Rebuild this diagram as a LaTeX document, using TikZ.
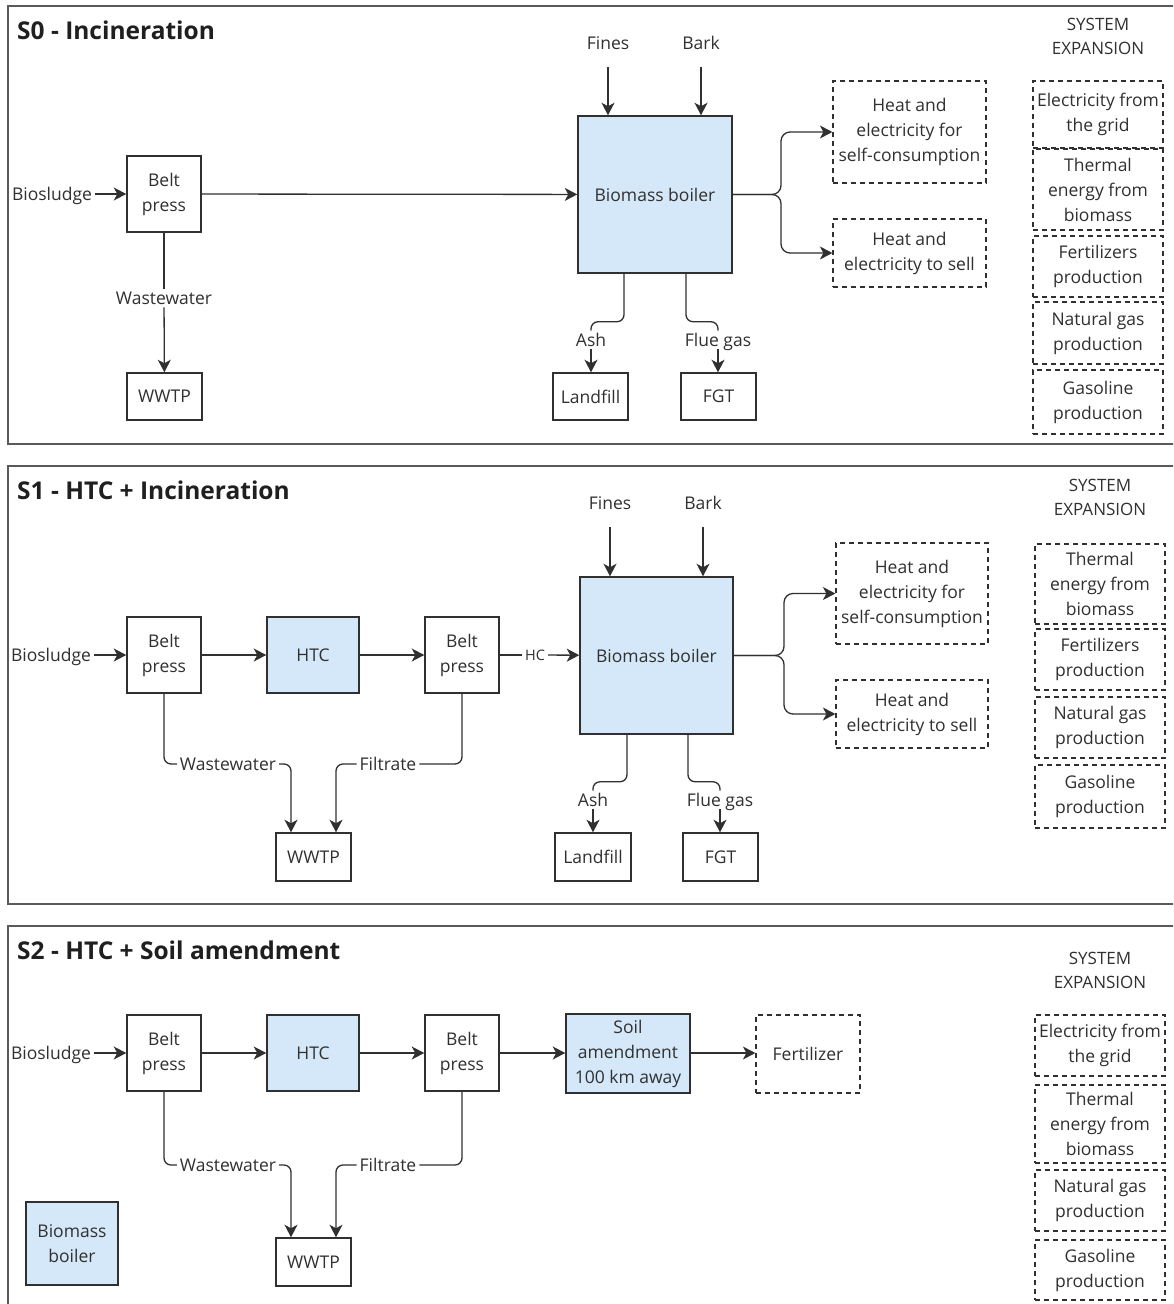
\documentclass[tikz,border=0pt]{standalone}
\usepackage{fontspec}
\setmainfont{Open Sans}
\usepackage{tikz}
\usetikzlibrary{arrows.meta}

\definecolor{ink}{RGB}{48,48,48}
\definecolor{panelgrey}{RGB}{90,90,90}
\definecolor{boxblue}{RGB}{213,232,249}

\newcommand{\boxfont}{\fontsize{17.5}{25}\selectfont}
\newcommand{\headfont}{\fontsize{24.5}{28}\selectfont\bfseries}

\tikzset{
  panel/.style={draw=panelgrey, line width=1.6pt},
  headline/.style={anchor=base west, inner sep=0pt, font=\headfont, text=black!88},
  unit/.style={draw=ink, line width=1.5pt, fill=white, align=center, inner sep=0pt, text=ink, font=\boxfont},
  bunit/.style={unit, fill=boxblue},
  ext/.style={unit, line width=1.2pt, dash pattern=on 5pt off 4pt},
  lbl/.style={inner sep=3pt, text height=12.5pt, text depth=0pt, text=ink, font=\boxfont},
  smalllbl/.style={lbl, text height=10.5pt, font=\fontsize{14.5}{18}\selectfont},
  sxlbl/.style={align=center, inner sep=0pt, text=ink, font=\fontsize{17}{24}\selectfont},
  pipe/.style={draw=ink, line width=1.3pt},
  flow/.style={pipe, -{Stealth[length=12.5pt,width=13pt,inset=3.5pt]}},
}

\begin{document}
\begin{tikzpicture}[x=1pt,y=-1pt]
\clip (0,0) rectangle (1173,1304);
\fill[white] (0,0) rectangle (1173,1304);

% ---------- S0 - Incineration
\draw[panel] (8,6) rectangle (1190,444);
\node[headline] (h0) at (17,39) {S0 - Incineration};

% sludge line
\node[lbl] (bio0) at (52,194) {Biosludge};
\node[unit,minimum width=74pt,minimum height=76pt] (bp0) at (164,194) {Belt\\press};
\node[lbl] (ww0) at (164,298) {Wastewater};
\node[unit,minimum width=75pt,minimum height=47pt] (wwtp0) at (164.5,396.5) {WWTP};
\draw[flow] (bio0) -- (bp0);
\draw[pipe] (bp0) -- (ww0);
\draw[flow] (ww0) -- (wwtp0);

% boiler
\node[bunit,minimum width=154pt,minimum height=157pt] (boil0) at (655,194.5) {Biomass boiler};
\node[lbl] (fin0) at (608,43) {Fines};
\node[lbl] (bark0) at (701,43) {Bark};
\draw[flow] (bp0) -- (boil0);
\draw[flow] ([yshift=-15pt]fin0.south) -- (fin0 |- boil0.north);
\draw[flow] ([yshift=-15pt]bark0.south) -- (bark0 |- boil0.north);

% heat and electricity
\coordinate (sp0) at (781,194.5);
\node[ext,minimum width=153pt,minimum height=102pt] (self0) at (909.5,132) {Heat and\\electricity for\\self-consumption};
\node[ext,minimum width=153pt,minimum height=68pt] (sell0) at (909.5,253) {Heat and\\electricity to sell};
\draw[flow,rounded corners=9pt] (boil0.east) -- (sp0) |- (self0.west);
\draw[flow,rounded corners=9pt] (boil0.east) -- (sp0) |- (sell0.west);

% residues
\node[lbl] (ash0) at (591,340) {Ash};
\node[unit,minimum width=75pt,minimum height=47pt] (land0) at (590.5,396.5) {Landfill};
\node[lbl] (flue0) at (718,340) {Flue gas};
\node[unit,minimum width=75pt,minimum height=47pt] (fgt0) at (718.5,396.5) {FGT};
\draw[pipe,rounded corners=7pt] ([xshift=-31pt]boil0.south) -- ++(0,48) -| (ash0.north);
\draw[flow] (ash0.south) -- (ash0.south |- land0.north);
\draw[pipe,rounded corners=7pt] ([xshift=31pt]boil0.south) -- ++(0,48) -| (flue0.north);
\draw[flow] (flue0.south) -- (flue0.south |- fgt0.north);

% system expansion
\node[sxlbl] (sx0) at (1098,36) {SYSTEM\\EXPANSION};
\node[ext,minimum width=130pt,minimum height=67pt] (grid0) at (1098,114.5) {Electricity from\\the grid};
\node[ext,minimum width=130pt,minimum height=81pt] (therm0) at (1098,189.5) {Thermal\\energy from\\biomass};
\node[ext,minimum width=130pt,minimum height=61pt] (fert0) at (1098,266.5) {Fertilizers\\production};
\node[ext,minimum width=130pt,minimum height=62pt] (ng0) at (1098,333) {Natural gas\\production};
\node[ext,minimum width=130pt,minimum height=64pt] (gas0) at (1098,402) {Gasoline\\production};

% ---------- S1 - HTC + Incineration
\draw[panel] (8,466) rectangle (1190,904);
\node[headline] (h1) at (17,499.5) {S1 - HTC + Incineration};

% sludge line
\node[lbl] (bio1) at (51,655) {Biosludge};
\node[unit,minimum width=74pt,minimum height=76pt] (bp1a) at (164,655) {Belt\\press};
\node[bunit,minimum width=92pt,minimum height=76pt] (htc1) at (313,655) {HTC};
\node[unit,minimum width=74pt,minimum height=76pt] (bp1b) at (462,655) {Belt\\press};
\node[smalllbl] (hc1) at (535,655) {HC};
\draw[flow] (bio1) -- (bp1a);
\draw[flow] (bp1a) -- (htc1);
\draw[flow] (htc1) -- (bp1b);

% water to WWTP
\node[lbl] (ww1) at (228,764) {Wastewater};
\node[lbl] (ft1) at (388,764) {Filtrate};
\node[unit,minimum width=75pt,minimum height=48pt] (wwtp1) at (313.5,857) {WWTP};
\draw[pipe,rounded corners=7pt] (bp1a.south) |- (ww1.west);
\draw[flow,rounded corners=7pt] (ww1.east) -| ([xshift=-22.5pt]wwtp1.north);
\draw[pipe,rounded corners=7pt] (bp1b.south) |- (ft1.east);
\draw[flow,rounded corners=7pt] (ft1.west) -| ([xshift=22.5pt]wwtp1.north);

% boiler
\node[bunit,minimum width=153pt,minimum height=157pt] (boil1) at (656.5,655.5) {Biomass boiler};
\node[lbl] (fin1) at (610,503) {Fines};
\node[lbl] (bark1) at (703,503) {Bark};
\draw[pipe] (bp1b) -- (hc1);
\draw[flow] (hc1) -- (boil1);
\draw[flow] ([yshift=-15pt]fin1.south) -- (fin1 |- boil1.north);
\draw[flow] ([yshift=-15pt]bark1.south) -- (bark1 |- boil1.north);

% heat and electricity
\coordinate (sp1) at (784,655.5);
\node[ext,minimum width=152pt,minimum height=101pt] (self1) at (912,593.5) {Heat and\\electricity for\\self-consumption};
\node[ext,minimum width=152pt,minimum height=68pt] (sell1) at (912,714) {Heat and\\electricity to sell};
\draw[flow,rounded corners=9pt] (boil1.east) -- (sp1) |- (self1.west);
\draw[flow,rounded corners=9pt] (boil1.east) -- (sp1) |- (sell1.west);

% residues
\node[lbl] (ash1) at (593,800) {Ash};
\node[unit,minimum width=76pt,minimum height=48pt] (land1) at (593,857) {Landfill};
\node[lbl] (flue1) at (720,800) {Flue gas};
\node[unit,minimum width=75pt,minimum height=48pt] (fgt1) at (720.5,857) {FGT};
\draw[pipe,rounded corners=7pt] ([xshift=-29.5pt]boil1.south) -- ++(0,47) -| (ash1.north);
\draw[flow] (ash1.south) -- (ash1.south |- land1.north);
\draw[pipe,rounded corners=7pt] ([xshift=31.5pt]boil1.south) -- ++(0,47) -| (flue1.north);
\draw[flow] (flue1.south) -- (flue1.south |- fgt1.north);

% system expansion
\node[sxlbl] (sx1) at (1100,497) {SYSTEM\\EXPANSION};
\node[ext,minimum width=130pt,minimum height=80pt] (therm1) at (1100,584) {Thermal\\energy from\\biomass};
\node[ext,minimum width=130pt,minimum height=61pt] (fert1) at (1100,659.5) {Fertilizers\\production};
\node[ext,minimum width=130pt,minimum height=61pt] (ng1) at (1100,727.5) {Natural gas\\production};
\node[ext,minimum width=130pt,minimum height=63pt] (gas1) at (1100,796.5) {Gasoline\\production};

% ---------- S2 - HTC + Soil amendment
\draw[panel] (8,926) rectangle (1190,1330);
\node[headline] (h2) at (17,959.5) {S2 - HTC + Soil amendment};

% sludge line
\node[lbl] (bio2) at (51,1053) {Biosludge};
\node[unit,minimum width=74pt,minimum height=76pt] (bp2a) at (164,1053) {Belt\\press};
\node[bunit,minimum width=92pt,minimum height=76pt] (htc2) at (313,1053) {HTC};
\node[unit,minimum width=74pt,minimum height=76pt] (bp2b) at (462,1053) {Belt\\press};
\node[bunit,minimum width=124pt,minimum height=79pt] (soil2) at (628,1053.5) {Soil\\amendment\\100 km away};
\node[ext,minimum width=104pt,minimum height=78pt] (fert2) at (808,1054) {Fertilizer};
\draw[flow] (bio2) -- (bp2a);
\draw[flow] (bp2a) -- (htc2);
\draw[flow] (htc2) -- (bp2b);
\draw[flow] (bp2b) -- (bp2b -| soil2.west);
\draw[flow] (soil2.east |- bp2b) -- (bp2b -| fert2.west);

% water to WWTP
\node[lbl] (ww2) at (228,1165) {Wastewater};
\node[lbl] (ft2) at (388,1165) {Filtrate};
\node[unit,minimum width=75pt,minimum height=48pt] (wwtp2) at (313.5,1262) {WWTP};
\draw[pipe,rounded corners=7pt] (bp2a.south) |- (ww2.west);
\draw[flow,rounded corners=7pt] (ww2.east) -| ([xshift=-22.5pt]wwtp2.north);
\draw[pipe,rounded corners=7pt] (bp2b.south) |- (ft2.east);
\draw[flow,rounded corners=7pt] (ft2.west) -| ([xshift=22.5pt]wwtp2.north);

\node[bunit,minimum width=92pt,minimum height=83pt] (boil2) at (72,1243.5) {Biomass\\boiler};

% system expansion
\node[sxlbl] (sx2) at (1100,970) {SYSTEM\\EXPANSION};
\node[ext,minimum width=130pt,minimum height=61pt] (grid2) at (1100,1045.5) {Electricity from\\the grid};
\node[ext,minimum width=130pt,minimum height=78pt] (therm2) at (1100,1124) {Thermal\\energy from\\biomass};
\node[ext,minimum width=130pt,minimum height=61pt] (ng2) at (1100,1200.5) {Natural gas\\production};
\node[ext,minimum width=130pt,minimum height=60pt] (gas2) at (1100,1270) {Gasoline\\production};
\end{tikzpicture}
\end{document}
